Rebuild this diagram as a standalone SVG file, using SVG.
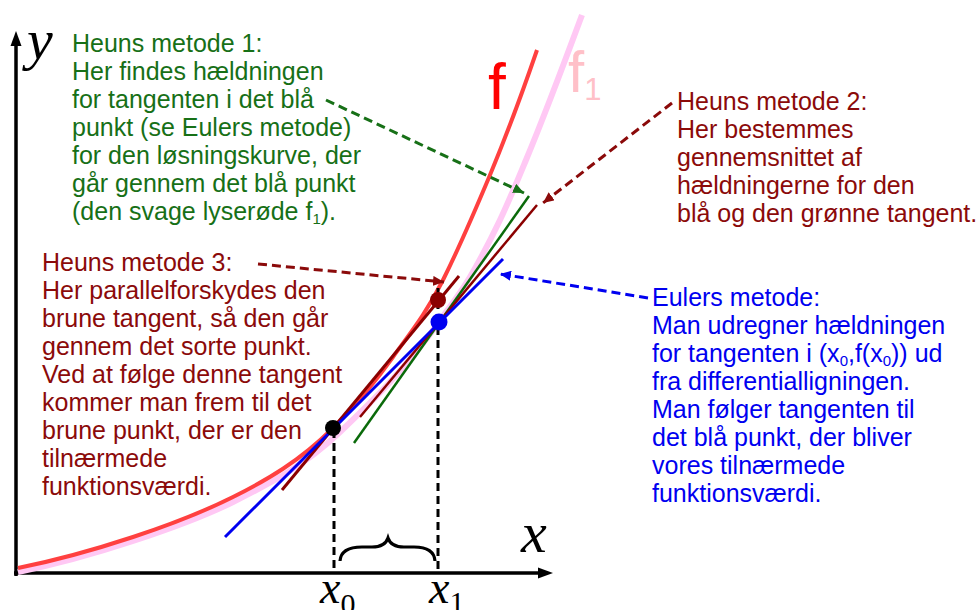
<svg xmlns="http://www.w3.org/2000/svg" width="978" height="610" viewBox="0 0 978 610">
<style>
.t{font-family:"Liberation Sans",Arial,sans-serif;font-size:25px}
.lab{font-family:"Liberation Sans",Arial,sans-serif}
.green{fill:#177017}
.brown{fill:#8b0a0a}
.blue{fill:#0000f0}
.ax{font-family:"Liberation Serif","Times New Roman",serif;font-style:italic}
.num{font-family:"Liberation Serif","Times New Roman",serif}
.dash{fill:none;stroke-width:3;stroke-dasharray:9,5}
.vd{fill:none;stroke:#000;stroke-width:3;stroke-dasharray:8,5}
</style>
<defs>
<marker id="ag" markerUnits="userSpaceOnUse" markerWidth="12" markerHeight="10" refX="11" refY="5" orient="auto"><path d="M0,0 L11,5 L0,10 z" fill="#177017"/></marker>
<marker id="ab" markerUnits="userSpaceOnUse" markerWidth="12" markerHeight="10" refX="11" refY="5" orient="auto"><path d="M0,0 L11,5 L0,10 z" fill="#8b0a0a"/></marker>
<marker id="au" markerUnits="userSpaceOnUse" markerWidth="12" markerHeight="10" refX="11" refY="5" orient="auto"><path d="M0,0 L11,5 L0,10 z" fill="#0000f0"/></marker>
</defs>
<rect width="978" height="610" fill="#fff"/>

<g id="axes">
<line x1="16" y1="576" x2="16" y2="44" stroke="#000" stroke-width="3.5"/>
<path d="M16,31 L21.5,46 L10.5,46 z" fill="#000"/>
<line x1="14" y1="573" x2="540" y2="573" stroke="#000" stroke-width="3.5"/>
<path d="M553,573 L538,567.5 L538,578.5 z" fill="#000"/>
<text class="ax" x="27" y="59" font-size="58">y</text>
<text class="ax" x="521" y="552" font-size="58">x</text>
</g>

<g id="curve-f1">
<path d="M18,572 C56.33,564.33 94.67,553.65 133,541 C166.33,530 199.67,518.67 233,502 C268.67,484.17 304.33,465.88 340,432 C356.67,416.17 373.33,400.33 390,382 C406.33,364.03 422.67,345.19 439,322 C449.33,307.33 459.67,294.43 470,277 C480,260 490,241 500,220 C508.67,201.8 517.33,180.8 526,160 C544.67,115.2 563.33,65.4 582,15" fill="none" stroke="#ffc8f4" stroke-width="6"/>
<text class="lab" x="568" y="92" font-size="58" fill="#ffc0c8">f<tspan font-size="31" dy="8">1</tspan></text>
</g>

<g id="curve-f">
<path d="M18,568 C56.33,560.33 94.67,549.65 133,537 C166.33,526 199.67,513.67 233,497 C266.33,480.33 299.67,461.33 333,428 C353,408 373,385 393,357 C409.67,333.67 426.33,313.33 443,280 C458.67,248.67 474.33,212.4 490,175 C505.67,137.4 521.33,95.57 537,50" fill="none" stroke="#ff4040" stroke-width="4"/>
<text class="lab" x="488" y="109" font-size="64" fill="#ff0000">f</text>
</g>

<g id="tangents">
<line x1="354" y1="443" x2="529" y2="196" stroke="#0a6a0a" stroke-width="2.5"/>
<line x1="360" y1="417" x2="537" y2="205" stroke="#8b0000" stroke-width="2.5"/>
<line x1="282" y1="490" x2="459" y2="276" stroke="#8b0000" stroke-width="3"/>
<line x1="225" y1="537" x2="503" y2="259" stroke="#0000f0" stroke-width="3"/>
</g>

<g id="guides">
<line class="vd" x1="334" y1="430" x2="334" y2="571"/>
<line class="vd" x1="438" y1="288" x2="438" y2="571"/>
<path d="M340,561 Q341,547 362,547 L372,547 Q385,547 388,538 Q391,547 404,547 L414,547 Q434,547 435,561" fill="none" stroke="#000" stroke-width="3.2"/>
</g>

<g id="points">
<circle cx="333" cy="428" r="8" fill="#000"/>
<circle cx="438" cy="300" r="8" fill="#8b0000"/>
<circle cx="439" cy="322" r="8.5" fill="#0000f0"/>
</g>

<g id="x-labels">
<text class="ax" x="320" y="603" font-size="46">x<tspan class="num" font-style="normal" font-size="30" dy="11">0</tspan></text>
<text class="ax" x="429" y="603" font-size="46">x<tspan class="num" font-style="normal" font-size="30" dy="9">1</tspan></text>
</g>

<g id="connectors">
<line class="dash" x1="326" y1="100" x2="524" y2="193" stroke="#177017" marker-end="url(#ag)"/>
<line class="dash" x1="672" y1="103" x2="543" y2="203" stroke="#8b0a0a" marker-end="url(#ab)"/>
<line class="dash" x1="258" y1="264" x2="444" y2="282" stroke="#8b0a0a" marker-end="url(#ab)"/>
<line class="dash" x1="648" y1="298" x2="500" y2="274" stroke="#0000f0" marker-end="url(#au)"/>
</g>

<g id="heun1" class="t green">
<text x="72" y="52">Heuns metode 1:</text>
<text x="72" y="80">Her findes hældningen</text>
<text x="72" y="108">for tangenten i det blå</text>
<text x="72" y="136">punkt (se Eulers metode)</text>
<text x="72" y="164">for den løsningskurve, der</text>
<text x="72" y="192">går gennem det blå punkt</text>
<text x="72" y="220">(den svage lyserøde f<tspan font-size="15" dy="4">1</tspan><tspan dy="-4">).</tspan></text>
</g>

<g id="heun2" class="t brown">
<text x="677" y="110">Heuns metode 2:</text>
<text x="677" y="138">Her bestemmes</text>
<text x="677" y="166">gennemsnittet af</text>
<text x="677" y="194">hældningerne for den</text>
<text x="677" y="222">blå og den grønne tangent.</text>
</g>

<g id="heun3" class="t brown">
<text x="42" y="271">Heuns metode 3:</text>
<text x="42" y="299">Her parallelforskydes den</text>
<text x="42" y="327">brune tangent, så den går</text>
<text x="42" y="355">gennem det sorte punkt.</text>
<text x="42" y="383">Ved at følge denne tangent</text>
<text x="42" y="411">kommer man frem til det</text>
<text x="42" y="439">brune punkt, der er den</text>
<text x="42" y="467">tilnærmede</text>
<text x="42" y="495">funktionsværdi.</text>
</g>

<g id="euler" class="t blue">
<text x="652" y="306">Eulers metode:</text>
<text x="652" y="334">Man udregner hældningen</text>
<text x="652" y="362">for tangenten i (x<tspan font-size="15" dy="4">0</tspan><tspan dy="-4">,f(x</tspan><tspan font-size="15" dy="4">0</tspan><tspan dy="-4">)) ud</tspan></text>
<text x="652" y="390">fra differentialligningen.</text>
<text x="652" y="418">Man følger tangenten til</text>
<text x="652" y="446">det blå punkt, der bliver</text>
<text x="652" y="474">vores tilnærmede</text>
<text x="652" y="502">funktionsværdi.</text>
</g>
</svg>
